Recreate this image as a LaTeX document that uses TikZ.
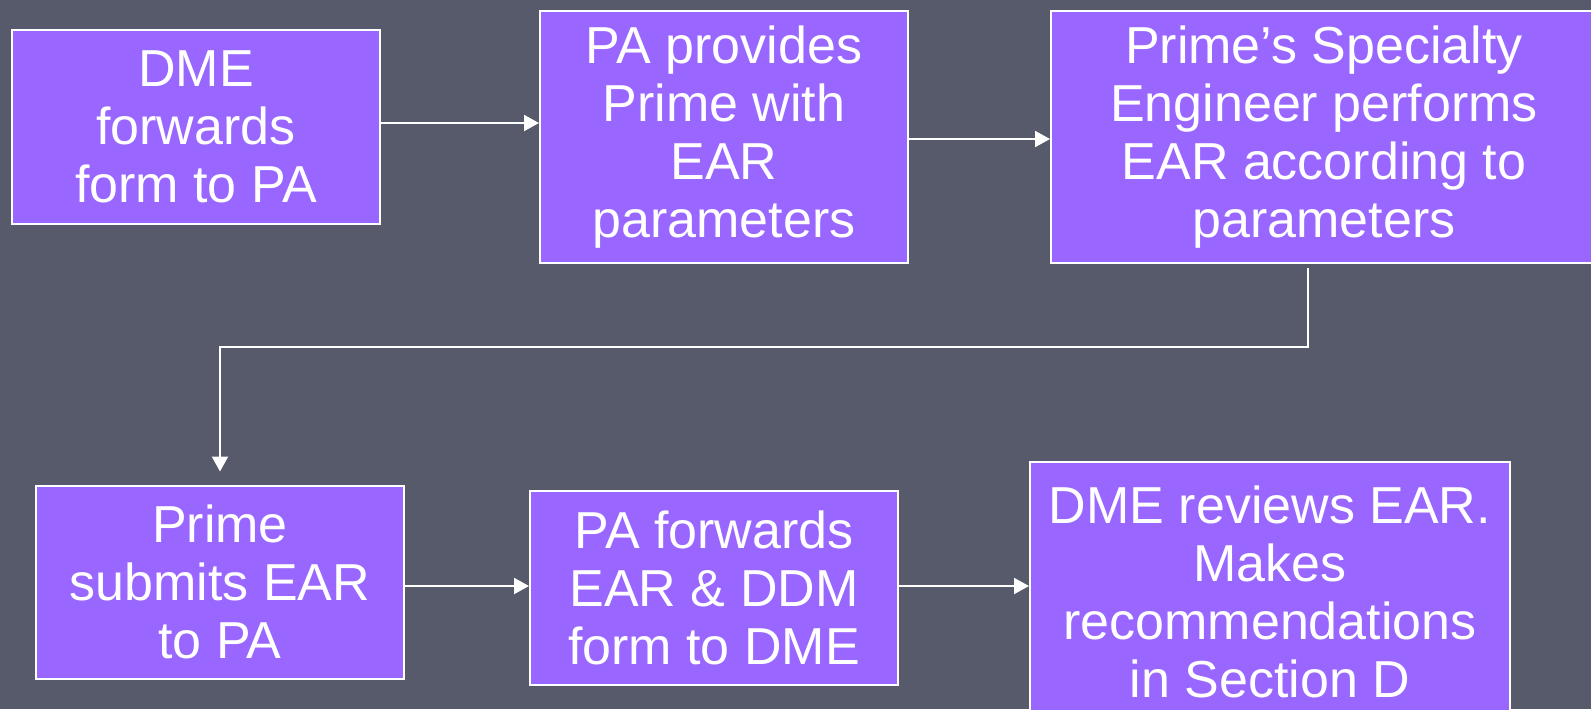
\documentclass[tikz,border=0pt]{standalone}
\usepackage{fontspec}
\setmainfont{Liberation Sans}
\usepackage{tikz}
\usetikzlibrary{arrows.meta}
\usetikzlibrary{positioning}

\definecolor{slate}{HTML}{575A6A}
\definecolor{violet}{HTML}{9966FF}

\begin{document}
\begin{tikzpicture}[x=1pt, y=-1pt,
    stepbox/.style={draw=white, line width=1pt, fill=violet, text=white,
      align=center, inner sep=0pt, font=\fontsize{26}{29}\selectfont},
    flow/.style={draw=white, line width=1pt, -{Triangle[width=8pt,length=7.5pt]}}]
      \fill[slate] (0, 0) rectangle (795.5, 354.5);
      \useasboundingbox (0, 0) rectangle (795.5, 354.5);

      % top row
      \node[stepbox, minimum width=184pt, minimum height=97pt] (dme) at (98, 63.5)
        {DME\\forwards\\form to PA};
      \node[stepbox, minimum width=184pt, minimum height=126pt] (pa) at (362, 68.5)
        {PA provides\\Prime with\\EAR\\parameters};
      \node[stepbox, minimum width=273pt, minimum height=126pt] (eng) at (662, 68.5)
        {Prime's Specialty\\Engineer performs\\EAR according to\\parameters};

      % bottom row
      \node[stepbox, minimum width=184pt, minimum height=96.5pt] (submit) at (110, 291)
        {Prime\\submits EAR\\to PA};
      \node[stepbox, minimum width=184pt, minimum height=97pt] (fwd) at (357, 294)
        {PA forwards\\EAR \& DDM\\form to DME};
      \node[stepbox, minimum width=240pt, minimum height=130pt] (review) at (635, 296)
        {DME reviews EAR.\\Makes\\recommendations\\in Section D};

      \coordinate (bend) at (110, 173.5);

      \draw[flow] ([yshift=2pt]dme.east) -- ([yshift=2pt]dme.east -| pa.west);
      \draw[flow] ([yshift=-1pt]pa.east) -- ([yshift=-1pt]pa.east -| eng.west);
      \draw[flow, shorten <=2pt, shorten >=6.5pt] ([xshift=-8pt]eng.south) |- (bend) -- (submit.north);
      \draw[flow] ([yshift=-2pt]submit.east) -- ([yshift=-2pt]submit.east -| fwd.west);
      \draw[flow] ([yshift=1pt]fwd.east) -- ([yshift=1pt]fwd.east -| review.west);
    \end{tikzpicture}
\end{document}
